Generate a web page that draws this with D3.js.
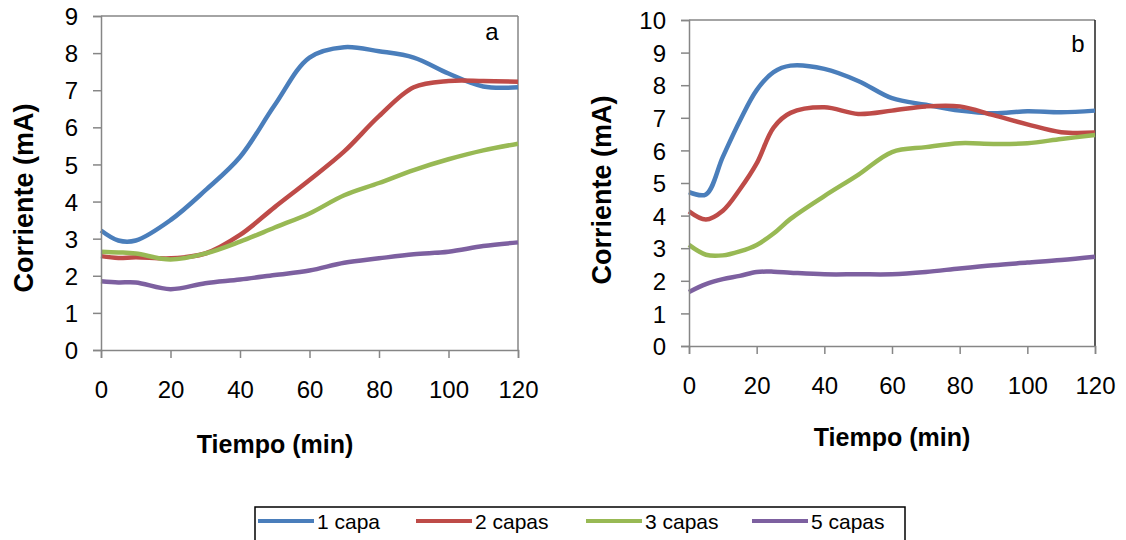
<!DOCTYPE html>
<html>
<head>
<meta charset="utf-8">
<script src="https://cdn.jsdelivr.net/npm/d3@7"></script>
<style>
  body { margin: 0; background: #fff; }
  svg { font-family: "Liberation Sans", Arial, sans-serif; }
</style>
</head>
<body>
<div id="chart"></div>
<script>
// time samples (min)
const timeA = [0, 5, 10, 20, 30, 40, 50, 60, 70, 80, 90, 100, 110, 120];
const timeB = [0, 5, 10, 15, 20, 25, 30, 40, 50, 60, 70, 80, 90, 100, 110, 120];

// panel a (mA)
const capa1A = [3.22, 2.95, 2.95, 3.5, 4.3, 5.2, 6.6, 7.88, 8.16, 8.05, 7.88, 7.45, 7.1, 7.08];
const capa2A = [2.53, 2.48, 2.5, 2.47, 2.6, 3.1, 3.85, 4.58, 5.35, 6.3, 7.08, 7.25, 7.25, 7.23];
const capa3A = [2.65, 2.63, 2.6, 2.44, 2.6, 2.92, 3.3, 3.68, 4.17, 4.5, 4.85, 5.14, 5.38, 5.56];
const capa5A = [1.85, 1.82, 1.82, 1.64, 1.8, 1.9, 2.02, 2.14, 2.35, 2.47, 2.58, 2.65, 2.8, 2.9];

// panel b (mA)
const capa1B = [4.72, 4.65, 5.8, 6.9, 7.85, 8.4, 8.6, 8.5, 8.13, 7.6, 7.4, 7.22, 7.14, 7.2, 7.17, 7.22];
const capa2B = [4.13, 3.88, 4.15, 4.8, 5.6, 6.7, 7.15, 7.32, 7.12, 7.22, 7.35, 7.35, 7.08, 6.8, 6.56, 6.55];
const capa3B = [3.1, 2.8, 2.78, 2.9, 3.1, 3.45, 3.9, 4.6, 5.25, 5.95, 6.1, 6.22, 6.2, 6.22, 6.35, 6.47];
const capa5B = [1.66, 1.9, 2.05, 2.15, 2.27, 2.28, 2.25, 2.2, 2.2, 2.2, 2.27, 2.38, 2.48, 2.56, 2.64, 2.74];

const seriesNames = ["1 capa", "2 capas", "3 capas", "5 capas"];
const colors = ["#4A7EBB", "#BE4B48", "#98B954", "#7D60A0"];
const xTicks = [0, 20, 40, 60, 80, 100, 120];

const svg = d3.select("#chart").append("svg")
    .attr("width", 1126)
    .attr("height", 540);

function drawPanel(opt) {
    const x = d3.scaleLinear().domain([0, 120]).range([opt.left, opt.right]);
    const y = d3.scaleLinear().domain([0, opt.yMax]).range([opt.bottom, opt.top]);
    const g = svg.append("g");

    // frame top and right
    g.append("line")
        .attr("x1", opt.left).attr("x2", opt.right)
        .attr("y1", opt.top).attr("y2", opt.top)
        .attr("stroke", "#868686").attr("stroke-width", 1.5);
    g.append("line")
        .attr("x1", opt.right).attr("x2", opt.right)
        .attr("y1", opt.top).attr("y2", opt.bottom)
        .attr("stroke", opt.rightColor).attr("stroke-width", 1.5);

    // lines
    const line = d3.line()
        .x(d => x(d[0]))
        .y(d => y(d[1]))
        .curve(d3.curveCatmullRom.alpha(0.5));

    opt.series.forEach((vals, i) => {
        g.append("path")
            .datum(opt.time.map((t, j) => [t, vals[j]]))
            .attr("fill", "none")
            .attr("stroke", colors[i])
            .attr("stroke-width", 4.5)
            .attr("stroke-linejoin", "round")
            .attr("d", line);
    });

    // axes
    const yAxis = g.append("g")
        .attr("transform", `translate(${opt.left},0)`)
        .call(d3.axisLeft(y).ticks(opt.yMax).tickSize(8).tickPadding(15));
    const xAxis = g.append("g")
        .attr("transform", `translate(0,${opt.bottom})`)
        .call(d3.axisBottom(x).tickValues(xTicks).tickSize(8).tickPadding(23));

    [yAxis, xAxis].forEach(a => {
        a.select(".domain").attr("stroke", "#868686").attr("stroke-width", 1.5);
        a.selectAll(".tick line").attr("stroke", "#868686").attr("stroke-width", 1.5);
        a.selectAll(".tick text")
            .attr("fill", "#000")
            .style("font-size", "24px")
            .style("font-family", "'Liberation Sans', Arial, sans-serif");
    });
    yAxis.selectAll(".tick text").attr("dy", "0.36em");

    // titles
    g.append("text")
        .attr("transform", `translate(${opt.yTitleX},${opt.yTitleY}) rotate(-90)`)
        .attr("text-anchor", "middle")
        .style("font-size", "27px")
        .style("font-weight", "bold")
        .text("Corriente (mA)");
    g.append("text")
        .attr("x", opt.xTitleX)
        .attr("y", opt.xTitleY)
        .attr("text-anchor", "middle")
        .style("font-size", "25px")
        .style("font-weight", "bold")
        .text("Tiempo (min)");

    g.append("text")
        .attr("x", opt.tagX)
        .attr("y", opt.tagY)
        .attr("text-anchor", "middle")
        .style("font-size", "24px")
        .text(opt.tag);
}

drawPanel({
    time: timeA, series: [capa1A, capa2A, capa3A, capa5A],
    yMax: 9, left: 101, right: 518, top: 16, bottom: 350,
    rightColor: "#868686",
    yTitleX: 33, yTitleY: 198, xTitleX: 275, xTitleY: 453,
    tag: "a", tagX: 492, tagY: 40
});

drawPanel({
    time: timeB, series: [capa1B, capa2B, capa3B, capa5B],
    yMax: 10, left: 689, right: 1095, top: 20, bottom: 346,
    rightColor: "#222",
    yTitleX: 611, yTitleY: 190, xTitleX: 892, xTitleY: 446,
    tag: "b", tagX: 1078, tagY: 52
});

// legend
const legend = svg.append("g");
legend.append("rect")
    .attr("x", 255).attr("y", 507)
    .attr("width", 650).attr("height", 45)
    .attr("fill", "none")
    .attr("stroke", "#000")
    .attr("stroke-width", 1.5);

const legendX = [258, 416, 586, 752];
seriesNames.forEach((name, i) => {
    legend.append("line")
        .attr("x1", legendX[i]).attr("x2", legendX[i] + 56)
        .attr("y1", 521).attr("y2", 521)
        .attr("stroke", colors[i])
        .attr("stroke-width", 4);
    legend.append("text")
        .attr("x", legendX[i] + 59)
        .attr("y", 529)
        .style("font-size", "21px")
        .text(name);
});
</script>
</body>
</html>
